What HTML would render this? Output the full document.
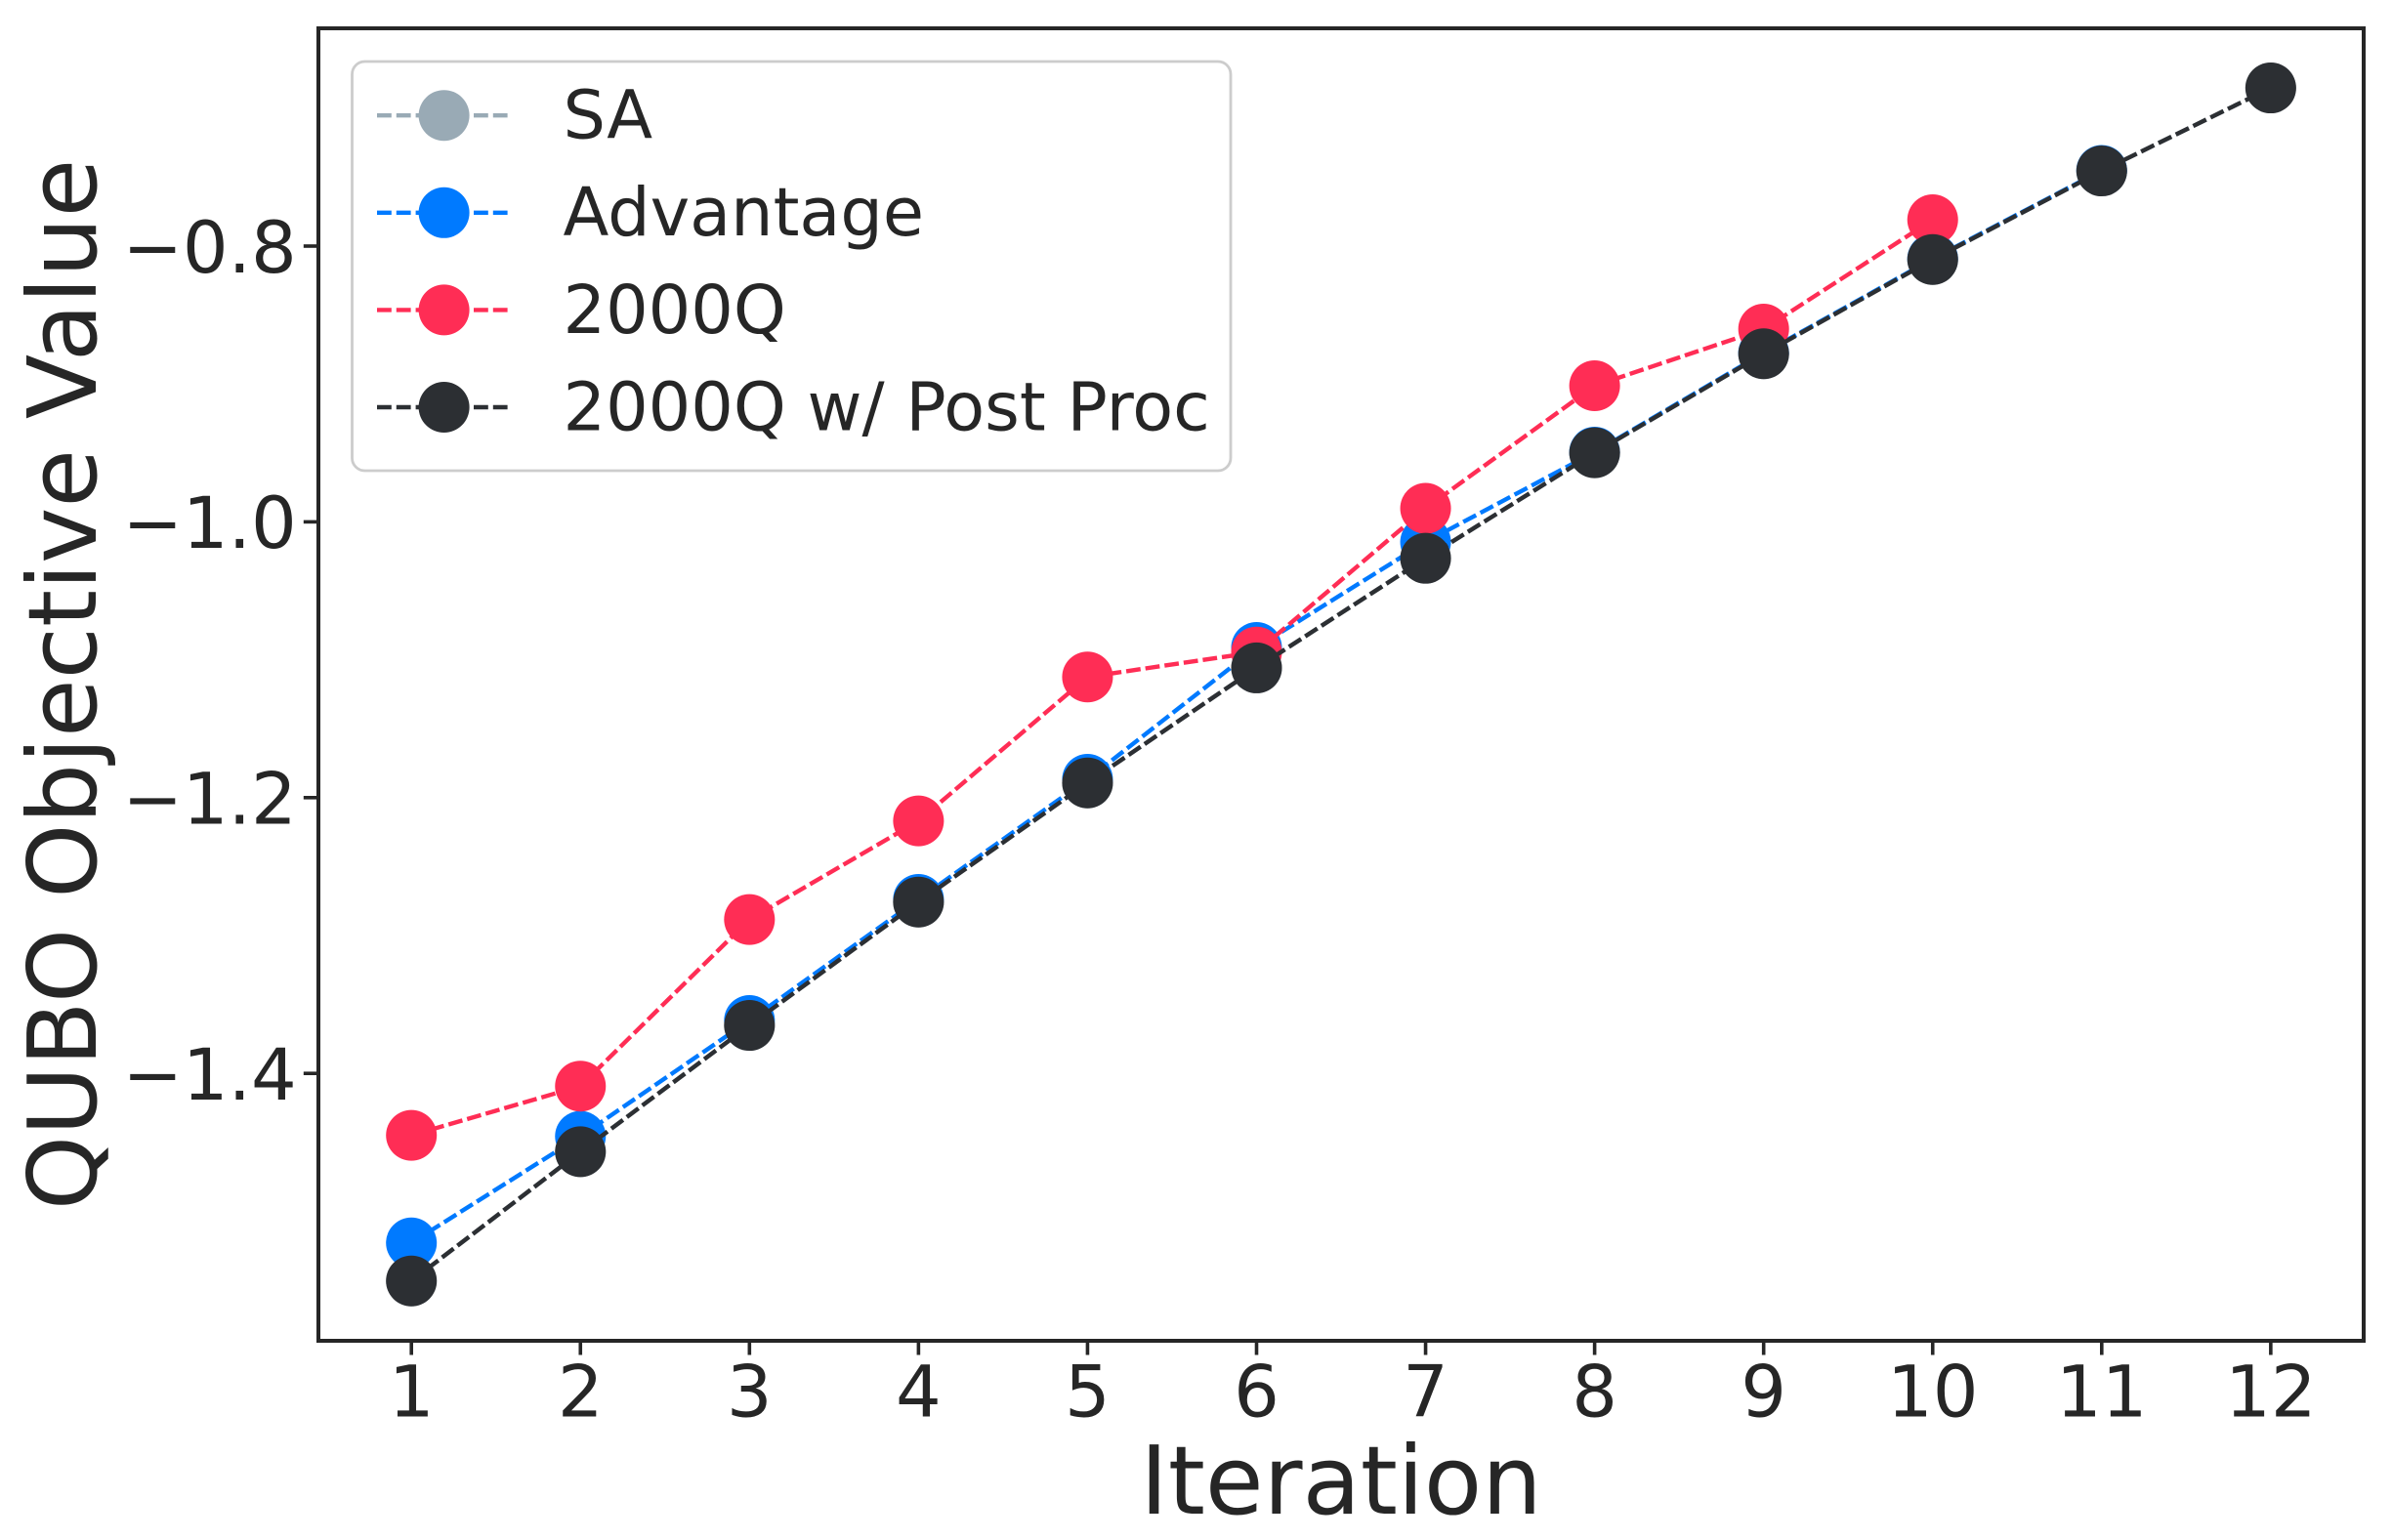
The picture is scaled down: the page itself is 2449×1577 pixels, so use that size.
<!DOCTYPE html>
<html lang="en">
<head>
<meta charset="utf-8">
<title>QUBO Objective Value by Iteration</title>
<style>
html,body{margin:0;padding:0;background:#fff;width:2449px;height:1577px;overflow:hidden}
svg{display:block}
text{font-family:"DejaVu Sans","Liberation Sans",sans-serif;fill:#262626}
</style>
</head>
<body>
<svg id="chart" xmlns="http://www.w3.org/2000/svg" width="2449" height="1577" viewBox="0 0 2449 1577">
  <rect x="0" y="0" width="2449" height="1577" fill="#ffffff"/>
  <g id="series-layer"></g>
  <rect x="326" y="29" width="2094" height="1344" fill="none" stroke="#262626" stroke-width="4"/>
  <g id="x-ticks"></g>
  <g id="y-ticks"></g>
  <text x="1373" y="1550" font-size="97" text-anchor="middle">Iteration</text>
  <text transform="translate(98 701) rotate(-90)" font-size="97" text-anchor="middle">QUBO Objective Value</text>
  <g>
    <rect x="360.5" y="63" width="899.5" height="419" rx="13" ry="13" fill="#ffffff" fill-opacity="0.8" stroke="#cccccc" stroke-width="2.8"/>
    <g id="legend-entries"></g>
  </g>
</svg>
<script>
const iterations = [1, 2, 3, 4, 5, 6, 7, 8, 9, 10, 11, 12];
const yTickValues = [-0.8, -1.0, -1.2, -1.4];
const yTickLabels = ["\u22120.8", "\u22121.0", "\u22121.2", "\u22121.4"];
const saValues = [-1.5505, -1.4568, -1.3652, -1.2757, -1.1893, -1.1059, -1.0264, -0.9499, -0.8781, -0.8097, -0.7455, -0.6853];
const advantageValues = [-1.5229, -1.4456, -1.3616, -1.2738, -1.1867, -1.0911, -1.0146, -0.9494, -0.8775, -0.8092, -0.7451];
const q2000Values = [-1.4449, -1.4092, -1.2884, -1.2169, -1.1125, -1.0944, -0.9902, -0.9013, -0.8602, -0.7809];
const postProcValues = [-1.5505, -1.4568, -1.3652, -1.2757, -1.1893, -1.1059, -1.0264, -0.9499, -0.8781, -0.8097, -0.7455, -0.6853];
const seriesNames = ["SA", "Advantage", "2000Q", "2000Q w/ Post Proc"];
const seriesSlugs = ["sa", "advantage", "2000q", "2000q-post-proc"];
const seriesColors = ["#99AAB5", "#007AFF", "#FF2D55", "#2C2F33"];
const seriesData = [saValues, advantageValues, q2000Values, postProcValues];

const NS = "http://www.w3.org/2000/svg";
const xScale = function (v) { return 421.2 + (v - 1) * 173.06; };
const yScale = function (v) { return 252 + (-0.8 - v) * 1412; };
const MARKER_R = 26;
const LINE_W = 4.4;
const DASH = "14.8 5";

function make(tag, attrs) {
  const el = document.createElementNS(NS, tag);
  for (const k in attrs) { el.setAttribute(k, attrs[k]); }
  return el;
}

const seriesLayer = document.getElementById("series-layer");
seriesData.forEach(function (values, s) {
  const group = make("g", {});
  
  
  const pts = values.map(function (v, i) { return xScale(iterations[i]) + "," + yScale(v); }).join(" ");
  const line = make("polyline", { points: pts, fill: "none", stroke: seriesColors[s], "stroke-width": LINE_W, "stroke-dasharray": DASH, "stroke-linejoin": "round" });
  
  
  group.appendChild(line);
  values.forEach(function (v, i) {
    const dot = make("circle", { cx: xScale(iterations[i]), cy: yScale(v), r: MARKER_R, fill: seriesColors[s] });
    
    
    group.appendChild(dot);
  });
  seriesLayer.appendChild(group);
});

const xTicks = document.getElementById("x-ticks");
iterations.forEach(function (it) {
  const x = xScale(it);
  const tick = make("line", { x1: x, x2: x, y1: 1373, y2: 1387.5, stroke: "#262626", "stroke-width": 3.6 });
  
  
  xTicks.appendChild(tick);
  const label = make("text", { x: x, y: 1450.5, "font-size": 73.5, "text-anchor": "middle" });
  
  
  label.textContent = String(it);
  xTicks.appendChild(label);
});

const yTicks = document.getElementById("y-ticks");
yTickValues.forEach(function (v, i) {
  const y = yScale(v);
  const tick = make("line", { x1: 310.8, x2: 326, y1: y, y2: y, stroke: "#262626", "stroke-width": 3.6 });
  
  
  yTicks.appendChild(tick);
  const label = make("text", { x: 303.8, y: y + 26.8, "font-size": 73.5, "text-anchor": "end" });
  
  
  label.textContent = yTickLabels[i];
  yTicks.appendChild(label);
});

const legendEntries = document.getElementById("legend-entries");
seriesNames.forEach(function (name, i) {
  const cy = 118.2 + i * 99.6;
  const entry = make("g", {});
  
  
  const swatch = make("line", { x1: 386, x2: 522.8, y1: cy, y2: cy, stroke: seriesColors[i], "stroke-width": LINE_W, "stroke-dasharray": DASH });
  
  
  entry.appendChild(swatch);
  const dot = make("circle", { cx: 454.6, cy: cy, r: MARKER_R, fill: seriesColors[i] });
  
  
  entry.appendChild(dot);
  const label = make("text", { x: 576.5, y: cy + 23.4, "font-size": 68.5 });
  
  
  label.textContent = name;
  entry.appendChild(label);
  legendEntries.appendChild(entry);
});
</script>
</body>
</html>
